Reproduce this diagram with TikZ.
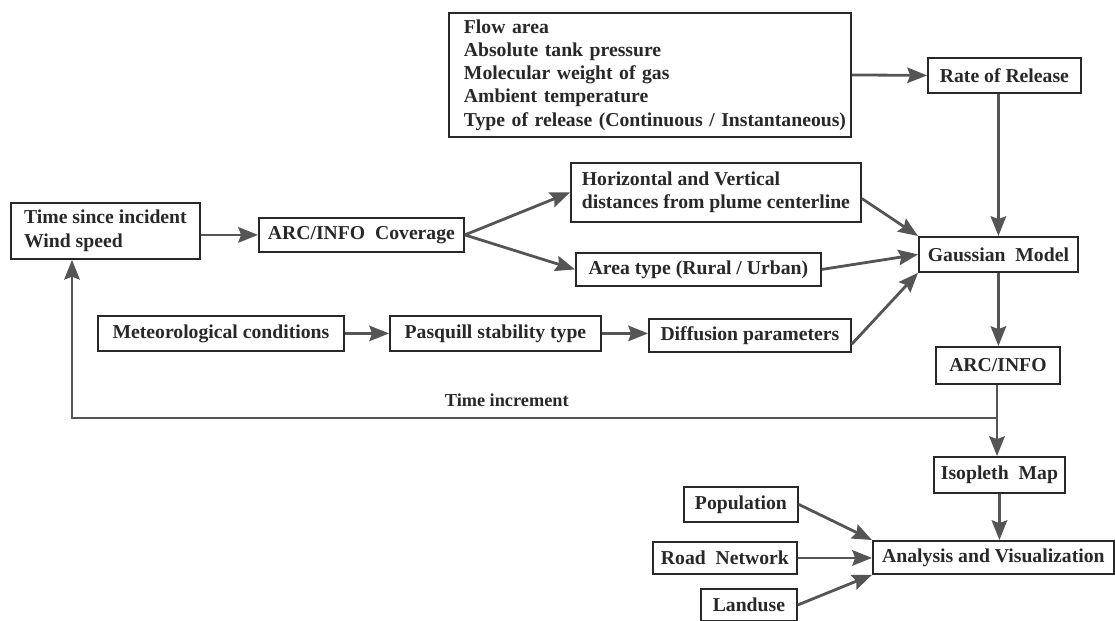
\documentclass[tikz,border=0pt]{standalone}
\usepackage{fontspec}
\setmainfont{Liberation Serif}
\usetikzlibrary{arrows.meta,positioning,calc}

\definecolor{inkgray}{RGB}{40,40,40}
\definecolor{linegray}{RGB}{85,85,85}

\tikzset{wh/.style 2 args={minimum width=#1*0.025cm, minimum height=#2*0.025cm}}

\begin{document}
\begin{tikzpicture}[
    x=0.025cm, y=-0.025cm,
    box/.style={draw=inkgray, line width=1.3pt, inner sep=0pt, anchor=north west,
      text=inkgray, font=\bfseries\fontsize{14}{16.5}\selectfont},
    link/.style={-{Stealth[length=14pt,width=11pt,inset=2pt]}, line width=2pt, draw=linegray}
  ]
    \useasboundingbox (0,0) rectangle (1115,620);

    \node[box, align=left, text width=372*0.025cm, inner xsep=15*0.025cm, wh={402}{124}] (params) at (448,12)
      {Flow area\\Absolute tank pressure\\Molecular weight of gas\\Ambient temperature\\\mbox{Type of release (Continuous / Instantaneous)}};
    \node[box, wh={153}{35}] (rate) at (927,57) {Rate of Release};

    \node[box, align=left, wh={189}{56}] (tsi) at (10,202) {Time since incident\\[1pt]Wind speed};
    \node[box, wh={205}{34}] (cover) at (258,217) {ARC/INFO\ \ Coverage};
    \node[box, align=left, wh={290}{59}] (hv) at (570,162) {Horizontal and Vertical\\distances from plume centerline};
    \node[box, wh={245}{33}] (area) at (575,252) {Area type (Rural / Urban)};
    \node[box, wh={159}{35}] (gauss) at (918,236) {Gaussian\ \ Model};

    \node[box, wh={246}{35}] (met) at (97,315) {Meteorological conditions};
    \node[box, wh={211}{35}] (pasq) at (389,315) {Pasquill stability type};
    \node[box, wh={202}{33}] (diff) at (648,318) {Diffusion parameters};

    \node[box, wh={124}{37}] (arcinfo) at (935,346) {ARC/INFO};
    \node[box, wh={131}{36}] (iso) at (933,456) {Isopleth\ \ Map};
    \node[box, wh={241}{33}] (anal) at (872,540) {Analysis and Visualization};

    \node[box, wh={114}{35}] (pop) at (683,486) {Population};
    \node[box, wh={144}{32}] (road) at (652,541) {Road\ \ Network};
    \node[box, wh={96}{32}] (land) at (700,588) {Landuse};

    \coordinate (tright) at (997,418);
    \coordinate (tleft) at (72,418);

    \draw[link] (params.east) -- (rate.west);
    \draw[link] (gauss.north |- rate.south) -- (gauss.north);

    \draw[link] (tsi.east |- cover.west) -- (cover.west);
    \draw[link] (cover.east) -- (hv.west);
    \draw[link] (cover.east) -- (area.west);

    \draw[link] ($(hv.east)!0.2!(hv.south east)$) -- (gauss.north west);
    \draw[link] (area.east) -- (gauss.west);
    \draw[link] ($(diff.east)!0.5!(diff.south east)$) -- (gauss.south west);

    \draw[link] (met.east) -- (pasq.west);
    \draw[link] (pasq.east) -- (pasq.east -| diff.west);

    \draw[link] (gauss.south) -- (gauss.south |- arcinfo.north);
    \draw[link] (tright |- arcinfo.south) -- (tright |- iso.north);
    \draw[link] (tright) -- node[above=4pt, pos=0.53, text=inkgray, font=\bfseries\fontsize{13}{15}\selectfont] (tinc) {Time increment} (tleft) -- (tleft |- tsi.south);

    \draw[link] (iso.south) -- (iso.south |- anal.north);
    \draw[link] (pop.east) -- (anal.north west);
    \draw[link] (road.east) -- (road.east -| anal.west);
    \draw[link] (land.east) -- (anal.south west);
  \end{tikzpicture}
\end{document}
